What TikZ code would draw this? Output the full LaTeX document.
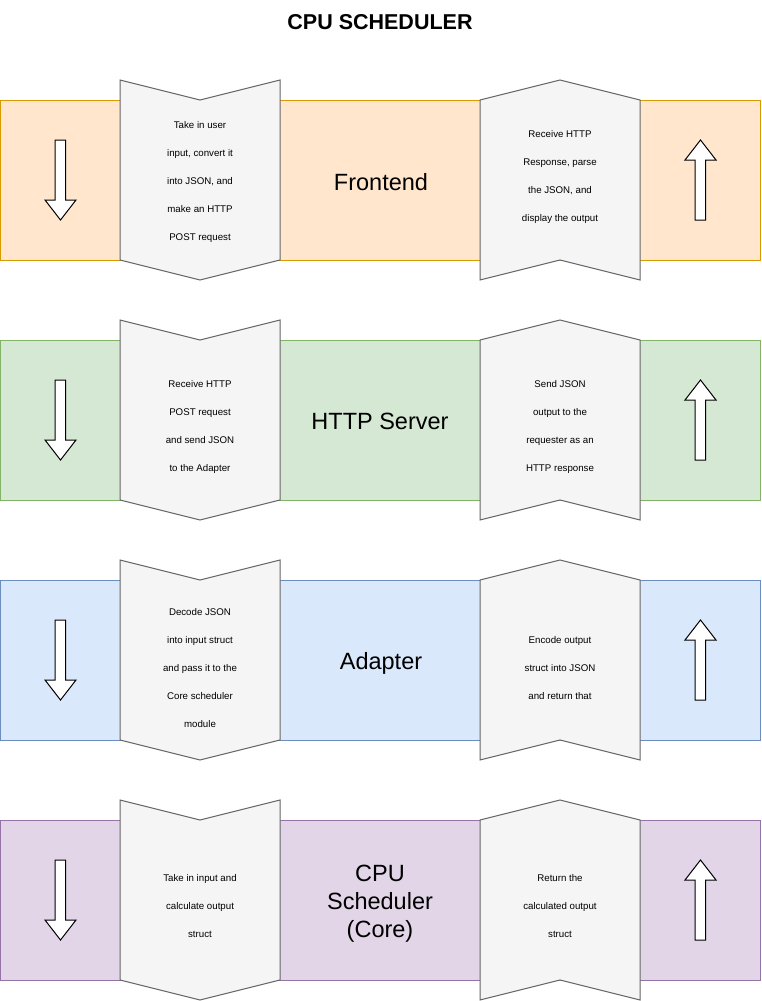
\documentclass[tikz,border=0pt]{standalone}
\usepackage{fontspec}
\setmainfont{Liberation Sans}
\definecolor{orfill}{HTML}{FFE6CC}\definecolor{ordraw}{HTML}{D79B00}
\definecolor{grfill}{HTML}{D5E8D4}\definecolor{grdraw}{HTML}{82B366}
\definecolor{blfill}{HTML}{DAE8FC}\definecolor{bldraw}{HTML}{6C8EBF}
\definecolor{pufill}{HTML}{E1D5E7}\definecolor{pudraw}{HTML}{9673A6}
\definecolor{chevfill}{HTML}{F5F5F5}\definecolor{chevdraw}{HTML}{666666}
\tikzset{
  chev/.style={fill=chevfill, draw=chevdraw, line width=1pt, line join=miter},
  blockarrow/.style={fill=white, draw=black, line width=1pt},
  small/.style={font=\fontsize{9.7}{28}\selectfont, align=center, inner sep=0pt},
  big/.style={font=\fontsize{23.5}{27.8}\selectfont, align=center, inner sep=0pt},
  titletext/.style={font=\fontsize{21.5}{26}\selectfont\bfseries, inner sep=0pt},
}
\newcommand\myrow[3]{%
  \begin{scope}[shift={(0,#1)}]
    \draw[fill=#2, draw=#3, line width=1pt] (0,100) rectangle (760,260);
    \draw[chev] (120,80) -- (200,100) -- (280,80) -- (280,260) -- (200,280) -- (120,260) -- cycle;
    \draw[chev] (480,100) -- (560,80) -- (640,100) -- (640,280) -- (560,260) -- (480,280) -- cycle;
    \draw[blockarrow] (55,140) -- (65.5,140) -- (65.5,200) -- (76,200) -- (60.5,220) -- (45,200) -- (55,200) -- cycle;
    \draw[blockarrow] (695,220) -- (705.5,220) -- (705.5,160) -- (716,160) -- (700.5,140) -- (685,160) -- (695,160) -- cycle;
  \end{scope}}
\begin{document}
\begin{tikzpicture}[x=1pt,y=-1pt]
  \fill[white] (0,0) rectangle (761,1001);
  \useasboundingbox (0,0) rectangle (761,1001);
  \node[titletext] (title) at (380,22) {CPU SCHEDULER};

  \myrow{0}{orfill}{ordraw}
  \myrow{240}{grfill}{grdraw}
  \myrow{480}{blfill}{bldraw}
  \myrow{720}{pufill}{pudraw}

  % Frontend
  \node[small] (fel) at (200,181.5) {Take in user\\input, convert it\\into JSON, and\\make an HTTP\\POST request};
  \node[big] (fe) at (381,182) {Frontend};
  \node[small] (fer) at (560,176.5) {Receive HTTP\\Response, parse\\the JSON, and\\display the output};

  % HTTP Server
  \node[small] (hsl) at (200,426.5) {Receive HTTP\\POST request\\and send JSON\\to the Adapter};
  \node[big] (hs) at (380,421.5) {HTTP Server};
  \node[small] (hsr) at (560,426.5) {Send JSON\\output to the\\requester as an\\HTTP response};

  % Adapter
  \node[small] (adl) at (200,668) {Decode JSON\\into input struct\\and pass it to the\\Core scheduler\\module};
  \node[big] (ad) at (381,663.5) {Adapter};
  \node[small] (adr) at (560,668) {Encode output\\struct into JSON\\and return that};

  % Core
  \node[small] (col) at (200,906) {Take in input and\\calculate output\\struct};
  \node[big] (co) at (380,903.5) {CPU\\Scheduler\\(Core)};
  \node[small] (cor) at (560,906) {Return the\\calculated output\\struct};
\end{tikzpicture}
\end{document}
